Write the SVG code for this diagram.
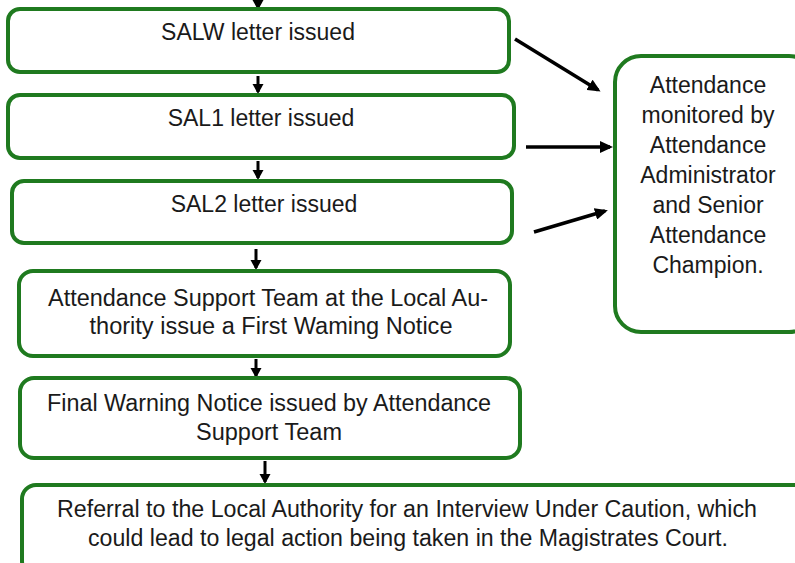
<svg xmlns="http://www.w3.org/2000/svg" width="795" height="563" viewBox="0 0 795 563">
<style>
.box{fill:#fff;stroke:#1f7a1f;stroke-width:4}
.t{font-family:"Liberation Sans",Arial,sans-serif;font-size:23px;fill:#1a1a1a;text-anchor:middle}
.n{font-family:"Liberation Sans",Arial,sans-serif;font-size:23px;fill:#1a1a1a;text-anchor:middle}
.c{stroke:#000;stroke-width:3.5;fill:none}
.v{stroke:#000;stroke-width:3;fill:none}
</style>
<defs>
<marker id="ah" markerWidth="14" markerHeight="12" refX="10" refY="6" orient="auto" markerUnits="userSpaceOnUse">
<path d="M0,0 L13,6 L0,12 z" fill="#000"/>
</marker>
<marker id="sh" markerWidth="12" markerHeight="12" refX="8" refY="5.5" orient="auto" markerUnits="userSpaceOnUse">
<path d="M0,0 L10,5.5 L0,11 z" fill="#000"/>
</marker>
</defs>
<rect width="795" height="563" fill="#fff"/>
<g id="connectors">
<line class="v" x1="258" y1="0" x2="258" y2="8" marker-end="url(#sh)"/>
<line class="v" x1="258" y1="76" x2="258" y2="92" marker-end="url(#sh)"/>
<line class="v" x1="258" y1="161" x2="258" y2="178" marker-end="url(#sh)"/>
<line class="v" x1="256" y1="249" x2="256" y2="268" marker-end="url(#sh)"/>
<line class="v" x1="256" y1="359" x2="256" y2="376" marker-end="url(#sh)"/>
<line class="v" x1="265" y1="461" x2="265" y2="482" marker-end="url(#sh)"/>
<line class="c" x1="515" y1="39" x2="598" y2="90" marker-end="url(#ah)"/>
<line class="c" x1="526" y1="147" x2="610" y2="147" marker-end="url(#ah)"/>
<line class="c" x1="534" y1="232" x2="605" y2="211" marker-end="url(#ah)"/>
</g>
<g id="salw">
<rect class="box" x="8" y="9" width="501" height="63" rx="12"/>
<text class="t" x="258" y="40">SALW letter issued</text>
</g>
<g id="sal1">
<rect class="box" x="8" y="95" width="506" height="63" rx="12"/>
<text class="t" x="261" y="126">SAL1 letter issued</text>
</g>
<g id="sal2">
<rect class="box" x="12" y="181" width="500" height="62" rx="12"/>
<text class="t" x="264" y="212">SAL2 letter issued</text>
</g>
<g id="first-warning">
<rect class="box" x="19" y="271" width="491" height="85" rx="14"/>
<text class="t" x="268" y="306" textLength="440" lengthAdjust="spacingAndGlyphs">Attendance Support Team at the Local Au-</text>
<text class="t" x="271" y="334" textLength="363" lengthAdjust="spacingAndGlyphs">thority issue a First Waming Notice</text>
</g>
<g id="final-warning">
<rect class="box" x="20" y="378" width="500" height="80" rx="14"/>
<text class="n" x="269" y="411" textLength="444" lengthAdjust="spacingAndGlyphs">Final Warning Notice issued by Attendance</text>
<text class="n" x="269" y="440" textLength="146" lengthAdjust="spacingAndGlyphs">Support Team</text>
</g>
<g id="referral">
<rect class="box" x="22" y="485" width="790" height="90" rx="14"/>
<text class="n" x="407" y="517" textLength="700" lengthAdjust="spacingAndGlyphs">Referral to the Local Authority for an Interview Under Caution, which</text>
<text class="n" x="408" y="546" textLength="640" lengthAdjust="spacingAndGlyphs">could lead to legal action being taken in the Magistrates Court.</text>
</g>
<g id="monitor">
<rect class="box" x="615" y="56" width="200" height="276" rx="26"/>
<text class="t" x="708" y="93">Attendance</text>
<text class="t" x="708" y="123">monitored by</text>
<text class="t" x="708" y="153">Attendance</text>
<text class="t" x="708" y="183">Administrator</text>
<text class="t" x="708" y="213">and Senior</text>
<text class="t" x="708" y="243">Attendance</text>
<text class="t" x="708" y="273">Champion.</text>
</g>
</svg>
